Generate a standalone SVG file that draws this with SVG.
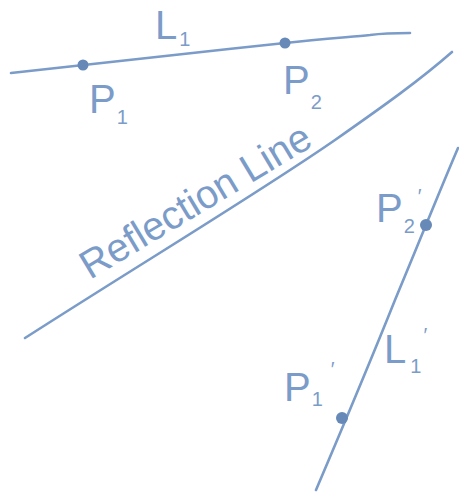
<svg xmlns="http://www.w3.org/2000/svg" width="459" height="497" viewBox="0 0 459 497">
  <style>
    .ln { fill: none; stroke: #7b9cc8; stroke-width: 2.6; stroke-linecap: round; stroke-linejoin: round; }
    .dot { fill: #6689b8; }
    .lbl { fill: #7b9cc8; font-family: "Liberation Sans", Arial, sans-serif; font-size: 40px; }
    .sub { font-size: 20px; }
  </style>
  <rect width="459" height="497" fill="#ffffff"/>
  <g id="connectors">
    <path id="L1" class="ln" d="M11,73 C60,68 180,54 285,43 C320,39 350,37 370,35 C385,33 398,33 410,33"/>
    <path id="reflection-line" class="ln" d="M25,338 C150,258 260,192 335,140 C385,105 420,80 452,52"/>
    <path id="L1prime" class="ln" d="M458,148 C440,190 420,240 395,300 C375,350 350,410 316,490"/>
  </g>
  <g id="P1">
    <circle class="dot" cx="83" cy="65" r="5.5"/>
    <text class="lbl" x="89" y="113">P<tspan class="sub" dx="1" dy="11">1</tspan></text>
  </g>
  <g id="P2">
    <circle class="dot" cx="285" cy="43" r="5.5"/>
    <text class="lbl" x="283" y="94">P<tspan class="sub" dx="1" dy="15">2</tspan></text>
  </g>
  <g id="L1-label">
    <text class="lbl" x="155" y="39">L<tspan class="sub" dx="2" dy="7">1</tspan></text>
  </g>
  <g id="reflection-label">
    <text class="lbl" font-size="35" x="90" y="280" textLength="262" lengthAdjust="spacingAndGlyphs" transform="rotate(-31 90 280)">Reflection Line</text>
  </g>
  <g id="P2prime">
    <circle class="dot" cx="426" cy="225" r="6"/>
    <text class="lbl" x="376" y="222">P<tspan class="sub" dx="1" dy="11">2</tspan><tspan class="sub" dx="3" dy="-30">′</tspan></text>
  </g>
  <g id="L1prime-label">
    <text class="lbl" x="384" y="363">L<tspan class="sub" dx="4" dy="10">1</tspan><tspan class="sub" dx="2" dy="-31">′</tspan></text>
  </g>
  <g id="P1prime">
    <circle class="dot" cx="342" cy="418" r="6"/>
    <text class="lbl" x="284" y="401">P<tspan class="sub" dx="1" dy="5">1</tspan><tspan class="sub" dx="8" dy="-30">′</tspan></text>
  </g>
</svg>
